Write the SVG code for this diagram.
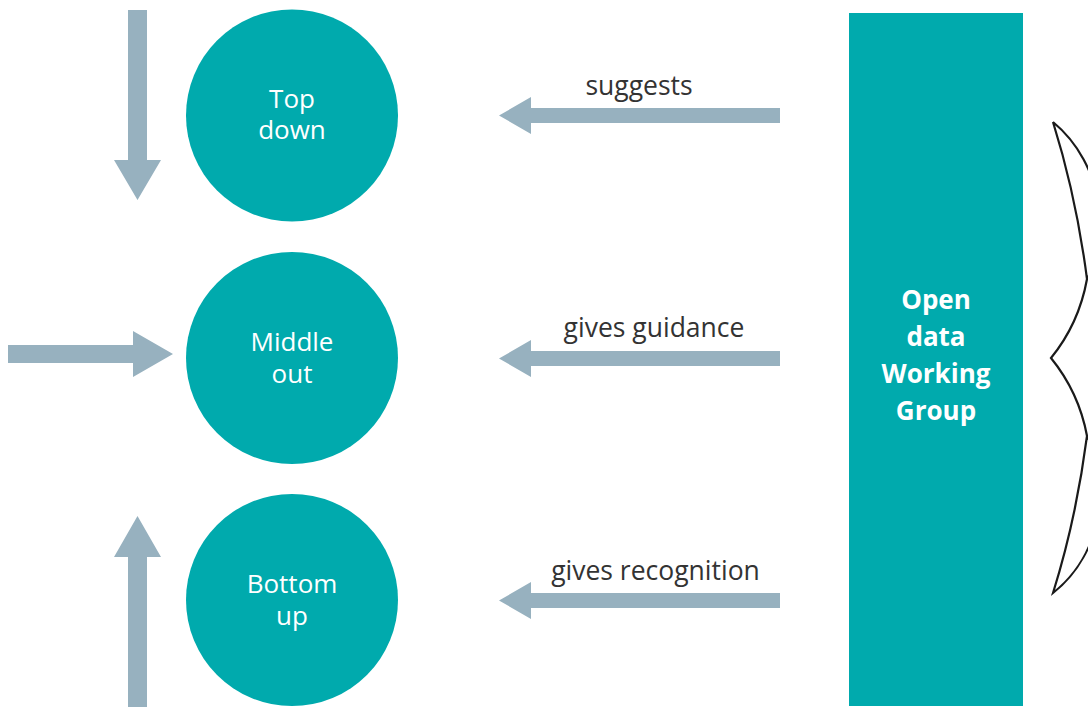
<svg xmlns="http://www.w3.org/2000/svg" width="1088" height="708" viewBox="0 0 1088 708">
<style>
.node{fill:#00AAAD}
.arr{fill:#97B1BF}
.lbl{font-family:"Open Sans","Liberation Sans",sans-serif;font-size:26px;fill:#FFFFFF;text-anchor:middle}
.grp{font-family:"Open Sans","Liberation Sans",sans-serif;font-size:26px;font-weight:700;fill:#FFFFFF;text-anchor:middle}
.edge{font-family:"Open Sans","Liberation Sans",sans-serif;font-size:26.5px;fill:#333333;text-anchor:middle}
</style>
<rect width="1088" height="708" fill="#FFFFFF"/>
<g id="connectors">
  <polygon class="arr" points="128,10 147,10 147,160 161,160 137.5,200 114,160 128,160"/>
  <polygon class="arr" points="8,345 133,345 133,331 173,354 133,377 133,363 8,363"/>
  <polygon class="arr" points="128,707 147,707 147,557 161,557 137.5,516 114,557 128,557"/>
  <polygon class="arr" points="780,108 531,108 531,97 499,115.5 531,134 531,123 780,123"/>
  <polygon class="arr" points="780,351 531,351 531,340 499,358.5 531,377 531,366 780,366"/>
  <polygon class="arr" points="780,593 531,593 531,582 499,600.5 531,619 531,608 780,608"/>
  <text class="edge" x="639" y="95">suggests</text>
  <text class="edge" x="654" y="337">gives guidance</text>
  <text class="edge" x="655.5" y="580">gives recognition</text>
</g>
<g id="top-down">
  <circle class="node" cx="292" cy="115.5" r="106"/>
  <text class="lbl" x="292" y="108">Top<tspan x="292" dy="31">down</tspan></text>
</g>
<g id="middle-out">
  <circle class="node" cx="292" cy="358" r="106"/>
  <text class="lbl" x="292" y="351">Middle<tspan x="292" dy="32">out</tspan></text>
</g>
<g id="bottom-up">
  <circle class="node" cx="292" cy="600" r="106"/>
  <text class="lbl" x="292" y="593">Bottom<tspan x="292" dy="32">up</tspan></text>
</g>
<g id="working-group">
  <rect class="node" x="849" y="13" width="174" height="693"/>
  <text class="grp" x="936" y="309">Open<tspan x="936" dy="37">data</tspan><tspan x="936" dy="37">Working</tspan><tspan x="936" dy="37">Group</tspan></text>
</g>
<g id="brace">
  <path d="M1053,122 C1105,165 1110,240 1087,279 C1080,318 1064,342 1051,358 C1064,374 1080,398 1087,436 C1110,478 1105,552 1053,593 C1068,545 1080,490 1087,436 M1087,279 C1080,225 1068,170 1053,122" fill="none" stroke="#1A1A1A" stroke-width="2.2" stroke-linejoin="miter"/>
</g>
</svg>
